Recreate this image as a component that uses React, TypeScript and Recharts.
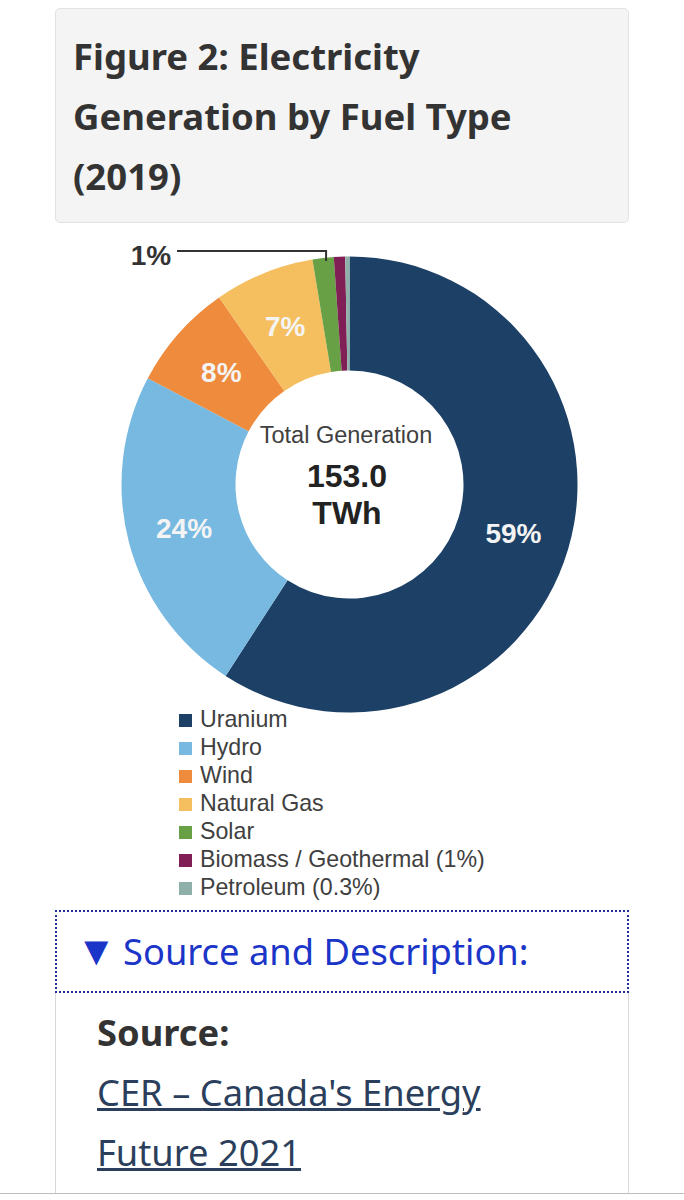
import React from "react"
import { PieChart, Pie, Cell, Legend } from "recharts"

const fuels = ["Uranium", "Hydro", "Wind", "Natural Gas", "Solar", "Biomass / Geothermal (1%)", "Petroleum (0.3%)"]
const shares = [59.2, 23.6, 7.6, 7.1, 1.5, 0.8, 0.3]
const sliceLabels = ["59%", "24%", "8%", "7%", "1%", "", ""]
const colors = ["#1c4066", "#77b9e0", "#ee8b3d", "#f5bf5f", "#68a045", "#7f1f55", "#8fb0a8"]

const data = fuels.map((name, i) => ({ name, value: shares[i] }))

const page = "'Noto Sans', 'Open Sans', sans-serif"
const chartFont = "'Liberation Sans', Arial, sans-serif"

const renderLabel = (props: any) => {
  const { cx, cy, midAngle, innerRadius, outerRadius, index } = props
  const text = sliceLabels[index]
  if (!text) return null
  const rad = (midAngle * Math.PI) / 180
  if (fuels[index] === "Solar") {
    // leader line for the small slice
    const x = cx + outerRadius * Math.cos(rad) + 3
    const y = cy - outerRadius * Math.sin(rad)
    return (
      <g>
        <polyline points={`${x},${y + 3} ${x},${y - 7} 177,${y - 7}`} fill="none" stroke="#333" strokeWidth={2} />
        <text x={151} y={y} textAnchor="middle" dominantBaseline="middle" fontFamily={chartFont} fontWeight={700} fontSize={28} fill="#333">
          {text}
        </text>
      </g>
    )
  }
  const r = (innerRadius + outerRadius) / 2
  return (
    <text
      x={cx + r * Math.cos(rad)}
      y={cy - r * Math.sin(rad) + 3}
      textAnchor="middle"
      dominantBaseline="middle"
      fontFamily={chartFont}
      fontWeight={700}
      fontSize={28}
      fill="#f4f4f4"
    >
      {text}
    </text>
  )
}

export default function App() {
  return (
    <div style={{ position: "absolute", left: 0, top: 0, width: 684, height: 1200, background: "#fff", overflow: "hidden", fontFamily: page }}>
      <div
        style={{
          position: "absolute", left: 55, top: 8, width: 572, height: 213,
          background: "#f4f4f4", border: "1px solid #e2e2e2", borderRadius: 5,
        }}
      >
        <div style={{ position: "absolute", left: 17, top: 17, fontSize: 36.5, fontWeight: 700, lineHeight: "60px", color: "#333", whiteSpace: "nowrap" }}>
          Figure 2: Electricity<br />Generation by Fuel Type<br />(2019)
        </div>
      </div>

      <div style={{ position: "absolute", left: 0, top: 230 }}>
        <PieChart width={684} height={680} margin={{ top: 0, right: 0, bottom: 0, left: 0 }}>
          <Pie
            data={data}
            dataKey="value"
            nameKey="name"
            cx={349.5}
            cy={254.5}
            innerRadius={114}
            outerRadius={228}
            startAngle={90}
            endAngle={-270}
            stroke="none"
            label={renderLabel}
            labelLine={false}
            isAnimationActive={false}
          >
            {data.map((d, i) => (
              <Cell key={d.name} fill={colors[i]} />
            ))}
          </Pie>
          <text x={346} y={207} textAnchor="middle" dominantBaseline="middle" fontFamily={chartFont} fontSize={23.5} fill="#404040">
            Total Generation
          </text>
          <text x={347} y={249} textAnchor="middle" dominantBaseline="middle" fontFamily={chartFont} fontWeight={700} fontSize={32} fill="#222">
            153.0
          </text>
          <text x={347} y={286} textAnchor="middle" dominantBaseline="middle" fontFamily={chartFont} fontWeight={700} fontSize={32} fill="#222">
            TWh
          </text>
          <Legend
            layout="vertical"
            align="right"
            verticalAlign="top"
            iconType="square"
            iconSize={13}
            itemSorter={null}
            wrapperStyle={{ left: 179, right: "auto", top: 475, width: 340, fontFamily: chartFont, fontSize: 23.2, lineHeight: "28px" }}
            formatter={(value: string) => <span style={{ color: "#404040", marginLeft: 4 }}>{value}</span>}
          />
        </PieChart>
      </div>

      <div
        style={{
          position: "absolute", left: 55, top: 910, width: 570, height: 79,
          border: "2px dotted #1f2f9c",
        }}
      >
        <div style={{ position: "absolute", left: 28, top: 13, fontSize: 36.3, lineHeight: "52px", color: "#1b35c8", whiteSpace: "nowrap" }}>
          <span style={{ display: "inline-block", width: 47, fontSize: 41, marginLeft: -9, lineHeight: "44px" }}>▼</span>Source and Description:
        </div>
      </div>
      <div style={{ position: "absolute", left: 55, top: 993, width: 572, height: 200, borderLeft: "1px solid #d8d8d8", borderRight: "1px solid #d8d8d8" }}>
        <div style={{ position: "absolute", left: 41, top: 9, fontSize: 36.3, lineHeight: "60px", color: "#333", whiteSpace: "nowrap" }}>
          <b>Source:</b><br />
          <span style={{ color: "#2b3f5c", textDecoration: "underline" }}>CER – Canada's Energy</span><br />
          <span style={{ color: "#2b3f5c", textDecoration: "underline" }}>Future 2021</span>
        </div>
      </div>
      <div style={{ position: "absolute", left: 0, top: 1193, width: 684, height: 1, background: "#bdbdbd" }} />
    </div>
  )
}
